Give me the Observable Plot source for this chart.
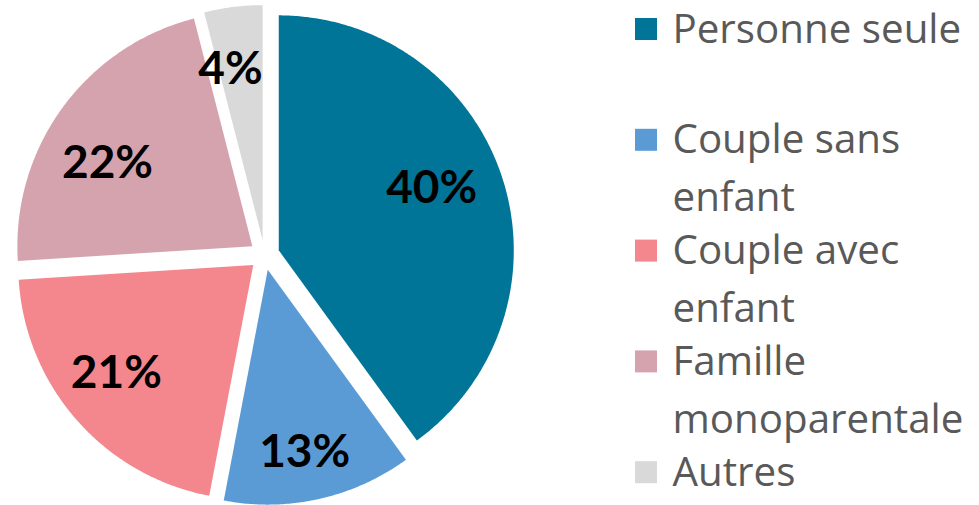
<!DOCTYPE html>
<html>
<head>
<meta charset="utf-8">
<script src="https://cdn.jsdelivr.net/npm/d3@7"></script>
<script src="https://cdn.jsdelivr.net/npm/@observablehq/plot@0.6"></script>
<style>
  html, body { margin: 0; padding: 0; background: #fff; }
  #chart { width: 979px; height: 505px; }
</style>
</head>
<body>
<div id="chart"></div>
<script>
// ---- data ----
const categories = ["Personne seule", "Couple sans enfant", "Couple avec enfant", "Famille monoparentale", "Autres"];
const values = [40, 13, 21, 22, 4];
const labels = ["40%", "13%", "21%", "22%", "4%"];
const legendLines = [["Personne seule"], ["Couple sans", "enfant"], ["Couple avec", "enfant"], ["Famille", "monoparentale"], ["Autres"]];
const colors = ["#007598", "#5B9BD5", "#F4878E", "#D5A3AE", "#D9D9D9"];

// ---- layout ----
const W = 979, H = 505;
const cx = 264, cy = 254.5, R = 235, explode = 15, labelR = 0.72 * R;
const labelNudge = [[-8, -10], [0, 18], [-10, -4], [-8, 17], [-11, -3]];
const legendX = 635, legendBase0 = 42, legendSlot = 110.8, legendLine = 58, legendFS = 40.3;

const arcs = d3.pie().sort(null).value(d => d)(values);
const slicePts = [];
const labelPts = [];
arcs.forEach((a, i) => {
  const mid = (a.startAngle + a.endAngle) / 2;
  const ox = cx + explode * Math.sin(mid), oy = cy - explode * Math.cos(mid);
  const key = categories[i];
  slicePts.push({key, x: ox, y: oy});
  const n = Math.max(8, Math.ceil((a.endAngle - a.startAngle) / (Math.PI / 360)));
  for (let k = 0; k <= n; k++) {
    const t = a.startAngle + (a.endAngle - a.startAngle) * k / n;
    slicePts.push({key, x: ox + R * Math.sin(t), y: oy - R * Math.cos(t)});
  }
  slicePts.push({key, x: ox, y: oy});
  labelPts.push({
    key, text: labels[i],
    x: ox + labelR * Math.sin(mid) + labelNudge[i][0],
    y: oy - labelR * Math.cos(mid) + labelNudge[i][1]
  });
});

const legendBoxes = categories.map((c, i) => {
  const b = legendBase0 + i * legendSlot;
  return {key: c, x1: legendX, x2: legendX + 22, y1: b - 24, y2: b - 2};
});
const legendText = [];
legendLines.forEach((lines, i) => {
  lines.forEach((t, j) => {
    legendText.push({text: t, x: legendX + 37, y: legendBase0 + i * legendSlot + j * legendLine - 0.32 * legendFS});
  });
});

const chart = Plot.plot({
  width: W, height: H,
  margin: 0,
  x: {domain: [0, W], range: [0, W], axis: null},
  y: {domain: [0, H], range: [0, H], axis: null},
  color: {domain: categories, range: colors},
  style: {background: "#fff"},
  marks: [
    Plot.line(slicePts, {x: "x", y: "y", z: "key", fill: "key", stroke: "none", curve: "linear"}),
    Plot.text(labelPts, {x: "x", y: "y", text: "text", fill: "#000", fontSize: 46, fontWeight: "bold", fontFamily: "Lato", textAnchor: "middle"}),
    Plot.rect(legendBoxes, {x1: "x1", x2: "x2", y1: "y1", y2: "y2", fill: "key"}),
    Plot.text(legendText, {x: "x", y: "y", text: "text", fill: "#595959", fontSize: legendFS, fontFamily: "Open Sans", textAnchor: "start"})
  ]
});
document.getElementById("chart").appendChild(chart);
</script>
</body>
</html>
